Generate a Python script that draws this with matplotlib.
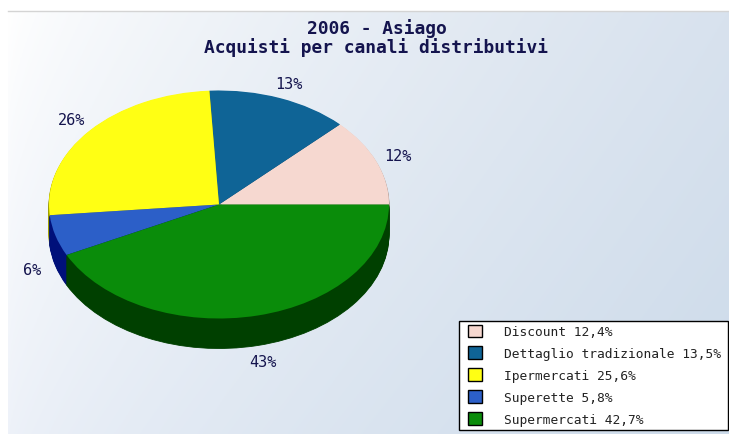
import numpy as np
import matplotlib
matplotlib.use("Agg")
import matplotlib.pyplot as plt
from matplotlib.patches import Patch, Rectangle

title_lines = ["2006 - Asiago", "Acquisti per canali distributivi"]
categories = ["Discount", "Dettaglio tradizionale", "Ipermercati", "Superette", "Supermercati"]
values = [12.4, 13.5, 25.6, 5.8, 42.7]
value_labels = ["12,4%", "13,5%", "25,6%", "5,8%", "42,7%"]
pie_labels = ["12%", "13%", "26%", "6%", "43%"]
top_colors = ["#f6d8d0", "#0f6496", "#ffff14", "#2c5fc8", "#0a8c0a"]
side_colors = ["#a89590", "#0a4060", "#a0a000", "#00107a", "#004000"]
W, H = 729, 435
text_color = "#14144e"
mono = "DejaVu Sans Mono"

fig = plt.figure(figsize=(W / 100, H / 100), dpi=100)
bg = fig.add_axes([0, 0, 1, 1])
bg.set_xlim(0, W)
bg.set_ylim(H, 0)
bg.axis("off")

# background gradient (bilinear between four corners)
yy, xx = np.mgrid[0:1:200j, 0:1:300j]
xx = xx**0.7
tl = np.array([255, 255, 255]) / 255
tr = np.array([216, 226, 238]) / 255
bl = np.array([238, 242, 249]) / 255
br = np.array([205, 219, 234]) / 255
xe, ye = xx[..., None], yy[..., None]
img = (tl * (1 - xe) + tr * xe) * (1 - ye) + (bl * (1 - xe) + br * xe) * ye
bg.imshow(img, extent=(8, W, H, 12), aspect="auto", zorder=0)
bg.set_xlim(0, W)
bg.set_ylim(H, 0)
bg.plot([8, W], [12, 12], color="#d4d4d4", lw=1, zorder=1)

bg.text(376.5, 29, title_lines[0], ha="center", va="center", family=mono,
        weight="bold", fontsize=12.9, color=text_color, zorder=3)
bg.text(376.5, 48, title_lines[1], ha="center", va="center", family=mono,
        weight="bold", fontsize=12.9, color=text_color, zorder=3)

# pie: centre (219,205.5), radii 170x114, depth 30 px
cy, rx, ry = 205.5, 170.0, 114.0
px0, px1, py0, py1 = 49, 389, cy - ry, 370
depth = 30 / ry
ax = fig.add_axes([px0 / W, 1 - py1 / H, (px1 - px0) / W, (py1 - py0) / H])
for d in np.linspace(depth, 0.01, 30):
    ax.pie(values, colors=side_colors, startangle=0, counterclock=True, center=(0, -d),
           radius=1, wedgeprops=dict(linewidth=0.6))
    for w, col in zip(ax.patches[-5:], side_colors):
        w.set_edgecolor(col)
ax.pie(values, colors=top_colors, startangle=0, counterclock=True, center=(0, 0),
       radius=1, wedgeprops=dict(linewidth=0))
ax.set_aspect("auto")
ax.set_xlim(-1, 1)
ax.set_ylim(1 - (py1 - py0) / ry, 1)
ax.axis("off")
ax.patch.set_alpha(0)

# percent labels
cum = 0.0
for v, lab in zip(values, pie_labels):
    a = np.deg2rad((cum + v / 2) * 3.6)
    cum += v
    lx, ly = 1.14 * np.cos(a), 1.14 * np.sin(a)
    if np.sin(a) < 0:
        ly -= depth
    ax.text(lx, ly, lab, ha="center", va="center", family=mono, fontsize=11,
            color=text_color, clip_on=False)

# legend box and entries
bg.add_patch(Rectangle((459, 322), 269, 109, facecolor="white", edgecolor="black",
                       linewidth=1, zorder=4))
handles = [Patch(facecolor=c, edgecolor="black", linewidth=1) for c in top_colors]
labels = [f"{c} {v}" for c, v in zip(categories, value_labels)]
leg = bg.legend(handles, labels, loc="upper left",
                bbox_to_anchor=(468 / W, 1 - 325.5 / H), bbox_transform=fig.transFigure,
                frameon=False, prop=dict(family=mono, size=9.3), labelcolor="#222222",
                borderaxespad=0, handlelength=1.1, handleheight=1.1, handletextpad=1.66,
                labelspacing=0.65, borderpad=0)
leg.set_zorder(5)
fig.savefig("out.png", dpi=100)
